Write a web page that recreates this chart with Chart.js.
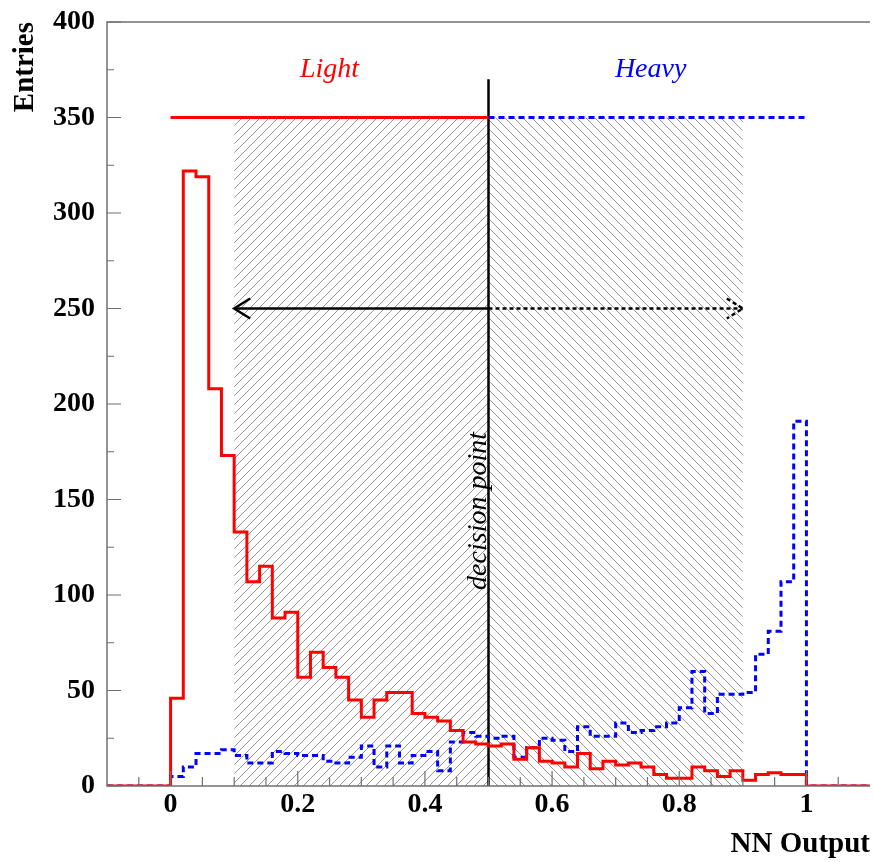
<!DOCTYPE html>
<html>
<head>
<meta charset="utf-8">
<script src="https://cdn.jsdelivr.net/npm/chart.js@4.4.0/dist/chart.umd.min.js"></script>
<style>
body { margin: 0; background: #fff; }
</style>
</head>
<body>
<canvas id="nnChart" width="874" height="862"></canvas>
<script>
// histogram binning: 50 bins from 0 to 1
const bin_low = 0
const bin_width = 0.02

const light_counts = [46, 322, 319, 208, 173, 133, 107, 115, 88, 91,
    57, 70, 62, 57, 45, 36, 45, 49, 49, 38,
    36, 34, 29, 23, 22, 21, 22, 14, 20, 13,
    12, 10, 17, 9, 13, 11, 12, 10, 6, 4,
    4, 10, 8, 5, 8, 3, 6, 7, 6, 6]

const heavy_counts = [5, 10, 17, 17, 19, 16, 12, 12, 18, 17,
    16, 16, 13, 12, 15, 21, 10, 21, 12, 16,
    18, 8, 23, 28, 26, 25, 26, 15, 20, 25,
    24, 18, 31, 26, 26, 33, 28, 29, 31, 33,
    41, 60, 38, 48, 48, 49, 69, 81, 107, 191]

const x_ticks = [0, 0.2, 0.4, 0.6, 0.8, 1]
const y_ticks = [0, 50, 100, 150, 200, 250, 300, 350, 400]

const decision_point = 0.5
const decision_top = 370
const window_low = 0.1
const window_high = 0.9
const window_level = 350
const arrow_level = 250

const serif = '"Liberation Serif", "Times New Roman", serif'

function hist_points(counts) {
    var pts = [{x: -0.1, y: 0}]
    for (var i = 0; i < counts.length; i++) {
        pts.push({x: bin_low + i * bin_width, y: counts[i]})
    }
    pts.push({x: bin_low + counts.length * bin_width, y: 0})
    pts.push({x: 1.1, y: 0})
    return pts
}

const canvas = document.getElementById('nnChart')
const ctx = canvas.getContext('2d')

function hatch(dir) {
    const s = 9
    const c = document.createElement('canvas')
    c.width = s
    c.height = s
    const g = c.getContext('2d')
    g.strokeStyle = 'rgba(80,80,80,0.6)'
    g.lineWidth = 1
    g.beginPath()
    if (dir > 0) {
        g.moveTo(-1, s + 1); g.lineTo(s + 1, -1)
        g.moveTo(-2, 2); g.lineTo(2, -2)
        g.moveTo(s - 2, s + 2); g.lineTo(s + 2, s - 2)
    } else {
        g.moveTo(-1, -1); g.lineTo(s + 1, s + 1)
        g.moveTo(s - 2, -2); g.lineTo(s + 2, 2)
        g.moveTo(-2, s - 2); g.lineTo(2, s + 2)
    }
    g.stroke()
    return ctx.createPattern(c, 'repeat')
}

// frame, ROOT-style inner tick marks, arrow heads and labels
const extras = {
    id: 'extras',
    afterDraw(chart) {
        const c = chart.ctx
        const xs = chart.scales.x
        const ys = chart.scales.y
        const a = chart.chartArea
        c.save()
        c.strokeStyle = '#707070'
        c.lineWidth = 1.5
        c.beginPath()
        c.moveTo(a.right, a.top); c.lineTo(a.left, a.top)
        c.lineTo(a.left, a.bottom); c.lineTo(a.right, a.bottom)
        c.stroke()

        c.lineWidth = 1.2
        c.beginPath()
        for (var k = -2; k <= 22; k++) {
            var px = xs.getPixelForValue(k * 0.05)
            if (px < a.left + 1 || px > a.right - 1) continue
            var len = (k % 4 == 0) ? 15 : 9
            c.moveTo(px, a.bottom); c.lineTo(px, a.bottom - len)
        }
        for (var v = 0; v <= 400; v += 25) {
            var py = ys.getPixelForValue(v)
            var len2 = (v % 50 == 0) ? 14 : 7
            c.moveTo(a.left, py); c.lineTo(a.left + len2, py)
        }
        c.stroke()

        // arrow heads
        const ay = ys.getPixelForValue(arrow_level)
        const lx = xs.getPixelForValue(window_low)
        const rx = xs.getPixelForValue(window_high)
        c.strokeStyle = '#000'
        c.lineWidth = 2.5
        c.beginPath()
        c.moveTo(lx + 16, ay - 10); c.lineTo(lx, ay); c.lineTo(lx + 16, ay + 10)
        c.stroke()
        c.setLineDash([4, 3])
        c.beginPath()
        c.moveTo(rx - 16, ay - 10); c.lineTo(rx, ay); c.lineTo(rx - 16, ay + 10)
        c.stroke()
        c.setLineDash([])

        // labels
        c.font = 'italic 28px ' + serif
        c.textAlign = 'center'
        c.textBaseline = 'middle'
        c.fillStyle = '#ff0000'
        c.fillText('Light', xs.getPixelForValue(0.25), ys.getPixelForValue(375))
        c.fillStyle = '#0000ff'
        c.fillText('Heavy', xs.getPixelForValue(0.755), ys.getPixelForValue(375))
        c.fillStyle = '#000'
        c.translate(xs.getPixelForValue(0.484), ys.getPixelForValue(144))
        c.rotate(-Math.PI / 2)
        c.fillText('decision point', 0, 0)
        c.restore()
    }
}

function seg(x0, y0, x1, y1) {
    return [{x: x0, y: y0}, {x: x1, y: y1}]
}

new Chart(canvas, {
    type: 'line',
    data: {
        datasets: [
            {
                label: 'Light',
                data: hist_points(light_counts),
                stepped: 'before',
                borderColor: '#ff0000',
                borderWidth: 3,
                pointRadius: 0
            },
            {
                label: 'Heavy',
                data: hist_points(heavy_counts),
                stepped: 'before',
                borderColor: '#0000ff',
                borderWidth: 3,
                borderDash: [6, 4],
                pointRadius: 0
            },
            {
                data: seg(0, window_level, decision_point, window_level),
                borderColor: '#ff0000',
                borderWidth: 3,
                pointRadius: 0
            },
            {
                data: seg(decision_point, window_level, 1, window_level),
                borderColor: '#0000ff',
                borderWidth: 3,
                borderDash: [6, 4],
                pointRadius: 0
            },
            {
                data: seg(decision_point, 0, decision_point, decision_top),
                borderColor: '#000',
                borderWidth: 2.5,
                pointRadius: 0
            },
            {
                data: seg(decision_point, arrow_level, window_low, arrow_level),
                borderColor: '#000',
                borderWidth: 2.5,
                pointRadius: 0
            },
            {
                data: seg(decision_point, arrow_level, window_high, arrow_level),
                borderColor: '#000',
                borderWidth: 2.5,
                borderDash: [4, 3],
                pointRadius: 0
            },
            {
                data: seg(window_low, window_level, decision_point, window_level),
                borderWidth: 0,
                pointRadius: 0,
                fill: 'origin',
                backgroundColor: hatch(1),
                order: 10
            },
            {
                data: seg(decision_point, window_level, window_high, window_level),
                borderWidth: 0,
                pointRadius: 0,
                fill: 'origin',
                backgroundColor: hatch(-1),
                order: 10
            }
        ]
    },
    options: {
        responsive: false,
        animation: false,
        layout: { padding: { top: 22, right: 4, left: 0, bottom: 0 } },
        plugins: {
            legend: { display: false },
            tooltip: { enabled: false }
        },
        scales: {
            x: {
                type: 'linear',
                min: -0.1,
                max: 1.1,
                border: { display: false },
                grid: { display: false, drawTicks: false },
                afterBuildTicks: function(s) { s.ticks = x_ticks.map(function(v) { return {value: v} }) },
                afterFit: function(s) { s.height = 76; s.paddingLeft = 0; s.paddingRight = 0 },
                ticks: {
                    color: '#000',
                    padding: 2,
                    maxRotation: 0,
                    font: { family: serif, size: 28, weight: 'bold' },
                    callback: function(v) { return String(v) }
                },
                title: {
                    display: true,
                    text: 'NN Output',
                    align: 'end',
                    color: '#000',
                    padding: { top: 0, bottom: 0 },
                    font: { family: serif, size: 29, weight: 'bold' }
                }
            },
            y: {
                min: 0,
                max: 400,
                border: { display: false },
                grid: { display: false, drawTicks: false },
                afterBuildTicks: function(s) { s.ticks = y_ticks.map(function(v) { return {value: v} }) },
                afterFit: function(s) { s.width = 107; s.paddingTop = 0; s.paddingBottom = 0 },
                ticks: {
                    color: '#000',
                    padding: 12,
                    font: { family: serif, size: 28, weight: 'bold' }
                },
                title: {
                    display: true,
                    text: 'Entries',
                    align: 'end',
                    color: '#000',
                    padding: { top: 8, bottom: 0 },
                    font: { family: serif, size: 29, weight: 'bold' }
                }
            }
        }
    },
    plugins: [extras]
});
</script>
</body>
</html>
